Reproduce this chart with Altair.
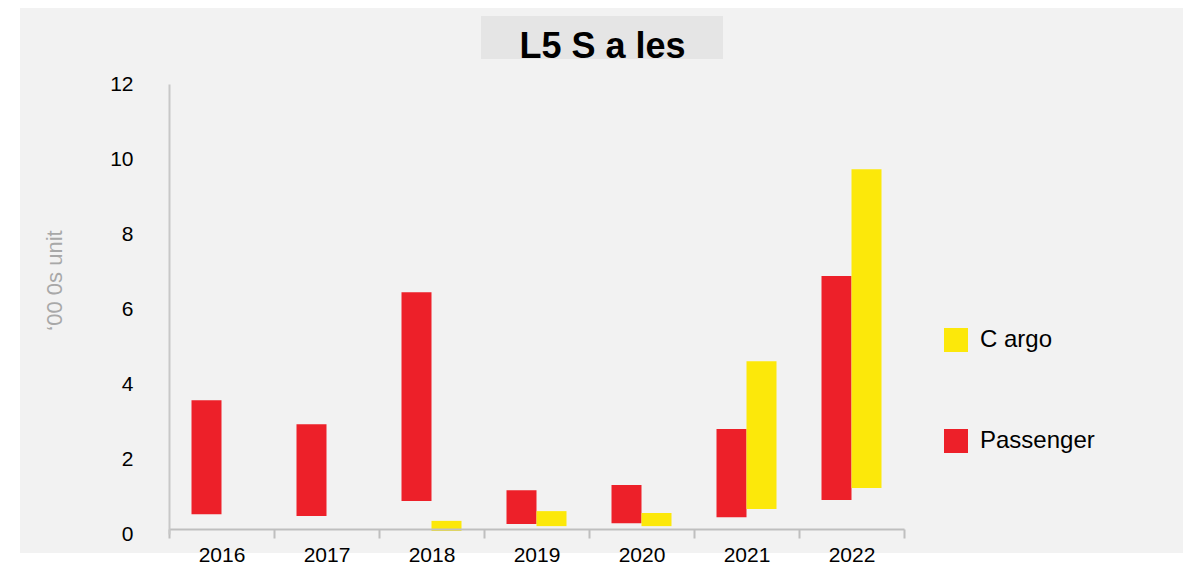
import altair as alt
import pandas as pd

years = ["2016", "2017", "2018", "2019", "2020", "2021", "2022"]
passenger_low = [0.53, 0.48, 0.88, 0.27, 0.29, 0.45, 0.91]
passenger_high = [3.57, 2.93, 6.45, 1.17, 1.31, 2.80, 6.88]
cargo_low = [None, None, 0.08, 0.21, 0.21, 0.67, 1.23]
cargo_high = [None, None, 0.35, 0.61, 0.56, 4.61, 9.73]
series = ["Cargo", "Passenger"]
series_labels = {"Cargo": "C argo", "Passenger": "Passenger"}
colors = ["#FCE80A", "#ED2029"]
y_ticks = [0, 2, 4, 6, 8, 10, 12]

rows = []
for i, yr in enumerate(years):
    rows.append({"year": yr, "series": "Passenger", "low": passenger_low[i], "high": passenger_high[i]})
    if cargo_high[i] is not None:
        rows.append({"year": yr, "series": "Cargo", "low": cargo_low[i], "high": cargo_high[i]})
df = pd.DataFrame(rows)
df["label"] = df["series"].map(series_labels)

FONT = "Liberation Sans"

bg = alt.Chart(alt.Data(values=[{}])).mark_rect(color="#f2f2f2").encode(
    x=alt.value(-149), x2=alt.value(1014), y=alt.value(-79), y2=alt.value(469)
)
title_box = alt.Chart(alt.Data(values=[{}])).mark_rect(color="#e5e5e5").encode(
    x=alt.value(312), x2=alt.value(554), y=alt.value(-68), y2=alt.value(-25)
)

bars = alt.Chart(df).mark_bar(size=30).encode(
    x=alt.X("year:N", sort=years,
            scale=alt.Scale(paddingInner=0, paddingOuter=0),
            axis=alt.Axis(title=None, labelAngle=0, labelFont=FONT, labelFontSize=21,
                          labelColor="#000000", domainColor="#bfbfbf", domainWidth=2,
                          tickColor="#bfbfbf", tickWidth=2, tickSize=9, tickBand="extent",
                          labelPadding=6, offset=-5, zindex=1)),
    xOffset=alt.XOffset("series:N", sort=["Passenger", "Cargo"],
                        scale=alt.Scale(paddingInner=0, paddingOuter=0.75)),
    y=alt.Y("low:Q", scale=alt.Scale(domain=[0, 12], nice=False),
            axis=alt.Axis(values=y_ticks, grid=False, ticks=False, tickSize=0,
                          labelFont=FONT, labelFontSize=21, labelColor="#000000",
                          labelPadding=36, domainColor="#c8c8c8", domainWidth=2,
                          title="‘00 0s unit", titleFont=FONT, titleFontSize=22,
                          titleFontWeight="normal", titleColor="#a8a8a8",
                          titleAngle=-90, titleX=-115, titleY=196,
                          titleAlign="center", titleBaseline="middle", zindex=1)),
    y2="high:Q",
    color=alt.Color("label:N",
                    scale=alt.Scale(domain=[series_labels[s] for s in series], range=colors),
                    legend=alt.Legend(title=None, orient="none", legendX=775, legendY=244,
                                      symbolType="square", symbolSize=576,
                                      symbolStrokeWidth=0, labelFont=FONT,
                                      labelFontSize=24, labelColor="#000000",
                                      labelOffset=12, rowPadding=77, padding=0, zindex=1)),
)

chart = alt.layer(bg, title_box, bars).properties(
    width=735, height=450,
    title=alt.TitleParams("L5 S a les", font=FONT, fontSize=36, fontWeight="bold",
                          color="#000000", anchor="middle", dx=66, offset=0, dy=89,
                          baseline="alphabetic", zindex=1),
    padding={"left": 161, "top": 76, "right": 279, "bottom": 32},
    autosize=alt.AutoSizeParams(type="none"),
    background="#ffffff",
).configure_view(stroke=None)

chart.save("out.html", embed_options={"renderer": "svg", "actions": False})
